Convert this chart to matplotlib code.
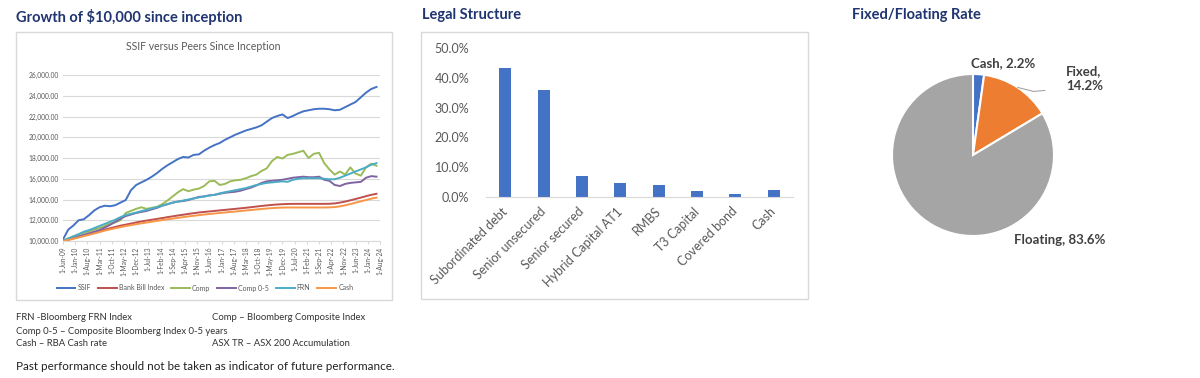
import matplotlib.pyplot as plt
import matplotlib.dates as mdates
from matplotlib.patches import Rectangle
from matplotlib.ticker import PercentFormatter, FuncFormatter
import numpy as np
import pandas as pd

plt.rcParams['font.family'] = ['Lato', 'DejaVu Sans']

# Growth of $10,000 - quarterly readings, Jun 2009 .. Jun 2024
dates = pd.date_range('2009-06-01', periods=61, freq='3MS')
ssif = [10150, 11100, 11500, 12000, 12100, 12500, 12950, 13250, 13400, 13350,
        13450, 13700, 13950, 14900, 15400, 15650, 15900, 16200, 16550, 16950,
        17300, 17600, 17900, 18100, 18050, 18300, 18350, 18700, 19000, 19250,
        19450, 19750, 20000, 20250, 20450, 20650, 20800, 20950, 21150, 21500,
        21850, 22050, 22200, 21850, 22050, 22300, 22500, 22600, 22700, 22750,
        22750, 22700, 22600, 22650, 22900, 23150, 23400, 23850, 24300, 24650,
        24850]
bank_bill = [10000, 10120, 10250, 10380, 10520, 10650, 10780, 10920, 11100, 11230,
             11350, 11480, 11580, 11680, 11790, 11880, 11970, 12050, 12130, 12210,
             12300, 12380, 12460, 12530, 12610, 12680, 12750, 12800, 12850, 12900,
             12950, 13000, 13050, 13100, 13150, 13200, 13260, 13320, 13380, 13430,
             13480, 13520, 13550, 13570, 13580, 13580, 13580, 13580, 13580, 13580,
             13580, 13590, 13620, 13700, 13800, 13920, 14050, 14180, 14320, 14450,
             14550]
comp = [10000, 10250, 10450, 10650, 10800, 10950, 11100, 11250, 11450, 11680,
        11800, 12000, 12700, 12900, 13100, 13250, 13100, 13200, 13300, 13550,
        13900, 14300, 14700, 15000, 14800, 14950, 15050, 15300, 15750, 15800,
        15400, 15500, 15750, 15850, 15900, 16050, 16250, 16400, 16750, 17000,
        17700, 18100, 17950, 18300, 18400, 18550, 18700, 18000, 18400, 18500,
        17500, 16900, 16400, 16700, 16400, 17100, 16500, 16300, 17100, 17450,
        17250]
comp05 = [10000, 10150, 10300, 10450, 10600, 10750, 10900, 11050, 11300, 11550,
          11850, 12150, 12400, 12550, 12700, 12800, 12900, 13050, 13200, 13400,
          13550, 13700, 13800, 13850, 13950, 14100, 14250, 14300, 14400, 14450,
          14550, 14650, 14700, 14750, 14850, 15000, 15150, 15350, 15600, 15750,
          15800, 15850, 15900, 16000, 16100, 16150, 16200, 16150, 16150, 16200,
          15900, 15800, 15400, 15300, 15500, 15600, 15650, 15700, 16100, 16250,
          16200]
frn = [10000, 10250, 10450, 10650, 10900, 11050, 11250, 11450, 11650, 11850,
       12050, 12300, 12500, 12620, 12750, 12880, 13000, 13130, 13260, 13400,
       13550, 13700, 13800, 13900, 14000, 14100, 14200, 14280, 14380, 14450,
       14600, 14700, 14800, 14900, 15000, 15100, 15250, 15400, 15500, 15600,
       15650, 15700, 15750, 15700, 15900, 16000, 16050, 16050, 16050, 16050,
       16000, 15950, 15950, 16100, 16300, 16500, 16700, 16900, 17100, 17350,
       17500]
cash = [10000, 10100, 10220, 10340, 10470, 10600, 10730, 10860, 11000, 11120,
        11230, 11340, 11440, 11530, 11620, 11700, 11780, 11860, 11940, 12020,
        12090, 12160, 12230, 12300, 12370, 12430, 12490, 12550, 12600, 12650,
        12700, 12750, 12800, 12840, 12890, 12940, 12990, 13040, 13090, 13130,
        13170, 13200, 13220, 13230, 13230, 13230, 13230, 13230, 13230, 13230,
        13230, 13240, 13270, 13340, 13440, 13560, 13690, 13820, 13950, 14080,
        14180]
series_names = ['SSIF', 'Bank Bill Index', 'Comp', 'Comp 0-5', 'FRN', 'Cash']
series_colors = ['#4472C4', '#C0504D', '#9BBB59', '#8064A2', '#4BACC6', '#F79646']

# Legal structure
legal_cats = ['Subordinated debt', 'Senior unsecured', 'Senior secured',
              'Hybrid Capital AT1', 'RMBS', 'T3 Capital', 'Covered bond', 'Cash']
legal_vals = [0.432, 0.359, 0.070, 0.048, 0.039, 0.019, 0.010, 0.022]

# Fixed / floating
rate_labels = ['Cash', 'Fixed', 'Floating']
rate_vals = [2.2, 14.2, 83.6]
rate_colors = ['#4472C4', '#ED7D31', '#A5A5A5']

W, H = 1200, 378
NAVY = '#1F3470'
GREY = '#595959'
LINE = '#D9D9D9'


def fx(x):
    return x / W


def fy(y):
    return 1 - y / H


fig = plt.figure(figsize=(12, 3.78), dpi=100)

# ---------------- panel 1: growth of $10,000 ----------------
fig.text(fx(16), fy(17), 'Growth of $10,000 since inception', fontsize=10.5,
         fontweight='bold', color=NAVY, va='center', ha='left')
fig.add_artist(Rectangle((fx(16), fy(300)), fx(392) - fx(16), fy(32) - fy(300),
                         transform=fig.transFigure, fill=False, ec=LINE, lw=1))
fig.text(fx(203), fy(47), 'SSIF versus Peers Since Inception', fontsize=7.6,
         color=GREY, ha='center', va='center')

ax1 = fig.add_axes([fx(63), fy(241), (380 - 63) / W, (241 - 75) / H])
for vals, name, col in zip([ssif, bank_bill, comp, comp05, frn, cash],
                           series_names, series_colors):
    ax1.plot(dates, vals, color=col, lw=1.4, label=name)
ax1.set_ylim(10000, 26000)
ax1.set_yticks(np.arange(10000, 26001, 2000))
ax1.yaxis.set_major_formatter(FuncFormatter(lambda v, p: f'{v:,.2f}'))
ticks = pd.date_range('2009-06-01', '2024-08-01', freq='7MS')
ax1.set_xlim(ticks[0], ticks[-1])
ax1.set_xticks(ticks)
ax1.set_xticklabels([f'1-{d:%b}-{d:%y}' for d in ticks], rotation=90)
ax1.tick_params(axis='both', labelsize=4.8, labelcolor=GREY)
ax1.tick_params(axis='y', length=0, pad=3)
ax1.tick_params(axis='x', length=2, color=LINE, pad=2)
ax1.grid(axis='y', color=LINE, lw=0.8)
ax1.set_axisbelow(True)
for s in ['left', 'right', 'top']:
    ax1.spines[s].set_visible(False)
ax1.spines['bottom'].set_color(LINE)
fig.legend(*ax1.get_legend_handles_labels(), loc='center',
           bbox_to_anchor=(fx(205), fy(288)), ncol=6, frameon=False,
           fontsize=5, handlelength=2.7, columnspacing=1.0,
           labelcolor=GREY, handletextpad=0.3)

notes = [(16, 318, 'FRN -Bloomberg FRN Index'),
         (212, 318, 'Comp \u2013 Bloomberg Composite Index'),
         (16, 331, 'Comp 0-5 \u2013 Composite Bloomberg Index 0-5 years'),
         (16, 344, 'Cash \u2013 RBA Cash rate'),
         (212, 344, 'ASX TR \u2013 ASX 200 Accumulation')]
for x, y, t in notes:
    fig.text(fx(x), fy(y), t, fontsize=6.8, color='#333333', va='center')
fig.text(fx(16), fy(366), 'Past performance should not be taken as indicator of future performance.',
         fontsize=8.4, color='#222222', va='center')

# ---------------- panel 2: legal structure ----------------
fig.text(fx(422), fy(15), 'Legal Structure', fontsize=10.5, fontweight='bold',
         color=NAVY, va='center', ha='left')
fig.add_artist(Rectangle((fx(421), fy(299)), fx(808) - fx(421), fy(32) - fy(299),
                         transform=fig.transFigure, fill=False, ec=LINE, lw=1))
ax2 = fig.add_axes([fx(486), fy(197), (793 - 486) / W, (197 - 48) / H])
ax2.bar(range(len(legal_cats)), legal_vals, width=0.31, color='#4472C4')
ax2.set_xlim(-0.5, len(legal_cats) - 0.5)
ax2.set_ylim(0, 0.5)
ax2.set_yticks(np.arange(0, 0.51, 0.1))
ax2.yaxis.set_major_formatter(PercentFormatter(1, decimals=1))
ax2.set_xticks(range(len(legal_cats)))
ax2.set_xticklabels(legal_cats, rotation=45, ha='right', va='center',
                    rotation_mode='anchor')
ax2.tick_params(axis='both', length=0, labelsize=9, labelcolor=GREY)
ax2.tick_params(axis='y', pad=12)
ax2.tick_params(axis='x', pad=9)
for s in ['left', 'right', 'top']:
    ax2.spines[s].set_visible(False)
ax2.spines['bottom'].set_color(LINE)

# ---------------- panel 3: fixed / floating ----------------
fig.text(fx(852), fy(15), 'Fixed/Floating Rate', fontsize=10.5, fontweight='bold',
         color=NAVY, va='center', ha='left')
ax3 = fig.add_axes([fx(873), fy(255), 200 / W, 200 / H])
wedges, _ = ax3.pie(rate_vals, colors=rate_colors, startangle=90, counterclock=False,
                    radius=81, wedgeprops=dict(edgecolor='white', linewidth=1.5))
ax3.set_xlim(-100, 100)
ax3.set_ylim(-100, 100)
ax3.set_aspect('auto')
lab_kw = dict(fontsize=9.5, fontweight='bold', color='#404040')
ax3.text(30, 92, f'{rate_labels[0]}, {rate_vals[0]}%', ha='center', va='center', **lab_kw)
ax3.text(93, 76, f'{rate_labels[1]},\n{rate_vals[1]}%', ha='left', va='center',
         linespacing=1.3, **lab_kw)
ax3.text(87, -85, f'{rate_labels[2]}, {rate_vals[2]}%', ha='center', va='center', **lab_kw)
# leader line for the Fixed label
mid = np.deg2rad((wedges[1].theta1 + wedges[1].theta2) / 2)
x0, y0 = 81 * np.cos(mid), 81 * np.sin(mid)
ax3.plot([x0, x0 + 16, x0 + 27], [y0, y0 - 4, y0 - 3], color='#A5A5A5', lw=0.8,
         clip_on=False)

fig.savefig('out.png', dpi=100)
